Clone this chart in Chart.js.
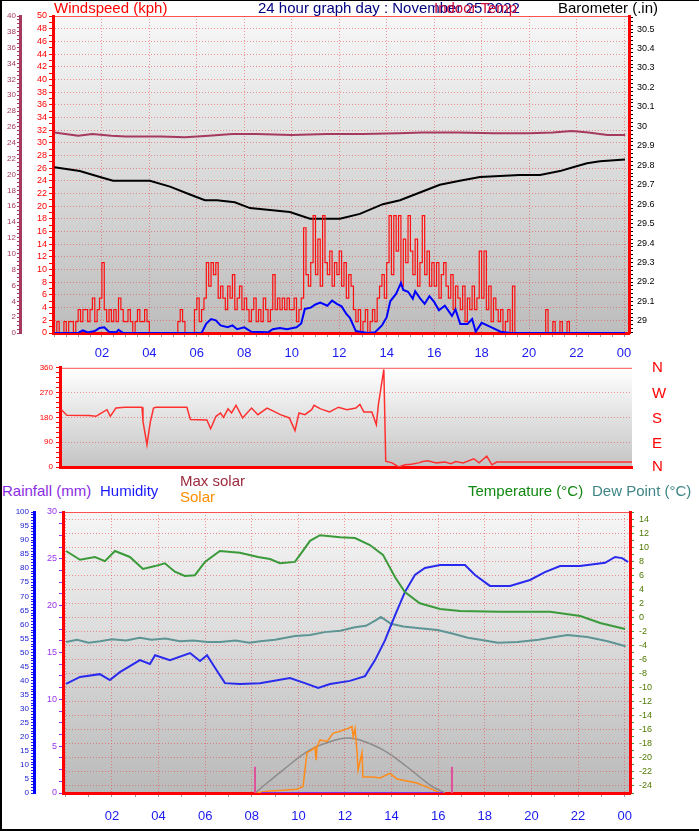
<!DOCTYPE html>
<html>
<head>
<meta charset="utf-8">
<script src="https://cdn.jsdelivr.net/npm/chart.js@4.4.1/dist/chart.umd.min.js"></script>
<style>
body { margin: 0; background: #fff; }
#wrap { position: relative; width: 699px; height: 833px; overflow: hidden; font-family: 'Liberation Sans', Arial, sans-serif; }
#wrap canvas { position: absolute; left: 0; }
.t { position: absolute; font-size: 15px; white-space: nowrap; line-height: 1; }
.c { position: absolute; left: 652px; font-size: 15px; line-height: 1; color: #ff0000; }
#frameL { position: absolute; left: 0; top: 0; width: 2px; height: 831px; background: #000; }
#frameT { position: absolute; left: 0; top: 0; width: 699px; height: 1px; background: #000; }
#frameB { position: absolute; left: 0; top: 829px; width: 699px; height: 2px; background: #000; }
</style>
</head>
<body>
<div id="wrap">
  <canvas id="windChart" width="699" height="365" style="top:0"></canvas>
  <canvas id="dirChart" width="699" height="115" style="top:360px"></canvas>
  <canvas id="tempChart" width="699" height="333" style="top:500px"></canvas>

  <div class="t" style="left:54px;top:0;color:#ff0000">Windspeed (kph)</div>
  <div class="t" style="left:258px;top:0;color:#000080">24 hour graph day : November 25 2022</div>
  <div class="t" style="left:434px;top:0;color:#d0103a">Indoor Temp</div>
  <div class="t" style="left:558px;top:0;color:#000">Barometer (.in)</div>

  <div class="c" style="top:359px">N</div>
  <div class="c" style="top:385px">W</div>
  <div class="c" style="top:410px">S</div>
  <div class="c" style="top:435px">E</div>
  <div class="c" style="top:458px">N</div>

  <div class="t" style="left:2px;top:483px;color:#8a2be2">Rainfall (mm)</div>
  <div class="t" style="left:100px;top:483px;color:#1a1aff">Humidity</div>
  <div class="t" style="left:180px;top:473px;color:#9c2a3c">Max solar</div>
  <div class="t" style="left:180px;top:489px;color:#ff8c00">Solar</div>
  <div class="t" style="left:468px;top:483px;color:#118811">Temperature (°C)</div>
  <div class="t" style="left:592px;top:483px;color:#3f8585">Dew Point (°C)</div>

  <div id="frameL"></div><div id="frameT"></div><div id="frameB"></div>
</div>
<script>
// ---- Данные: верхняя панель (ветер / барометр / темп. в помещении) ----
const gustStep = 0.1; // порывы: одно значение на каждые 0.1 часа, с 00:00
const gustKph = [
  0, 1.8, 0, 0, 1.8, 0, 1.8, 1.8, 0, 1.8,
  3.7, 1.8, 3.7, 3.7, 1.8, 3.7, 5.5, 1.8, 3.7, 5.5,
  11.1, 3.7, 1.8, 3.7, 1.8, 3.7, 1.8, 5.5, 3.7, 1.8,
  1.8, 3.7, 1.8, 0, 1.8, 3.7, 1.8, 1.8, 3.7, 1.8,
  0, 0, 0, 0, 0, 0, 0, 0, 0, 0,
  0, 0, 1.8, 3.7, 1.8, 0, 0, 0, 0, 3.7,
  5.5, 1.8, 3.7, 5.5, 11.1, 7.4, 11.1, 9.2, 11.1, 5.5,
  7.4, 5.5, 3.7, 7.4, 5.5, 9.2, 3.7, 5.5, 7.4, 3.7,
  5.5, 3.7, 1.8, 3.7, 5.5, 1.8, 3.7, 1.8, 5.5, 3.7,
  1.8, 3.7, 9.2, 3.7, 5.5, 3.7, 5.5, 3.7, 5.5, 3.7,
  3.7, 5.5, 1.8, 3.7, 5.5, 16.6, 9.2, 7.4, 11.1, 18.5,
  9.2, 14.8, 7.4, 18.5, 11.1, 9.2, 12.9, 7.4, 11.1, 9.2,
  12.9, 7.4, 11.1, 5.5, 9.2, 7.4, 3.7, 1.8, 3.7, 0,
  1.8, 3.7, 0, 1.8, 3.7, 1.8, 5.5, 7.4, 9.2, 5.5,
  11.1, 18.5, 9.2, 18.5, 12.9, 18.5, 7.4, 14.8, 11.1, 18.5,
  12.9, 9.2, 14.8, 7.4, 11.1, 18.5, 9.2, 12.9, 7.4, 11.1,
  7.4, 11.1, 5.5, 9.2, 11.1, 7.4, 5.5, 9.2, 3.7, 7.4,
  5.5, 3.7, 7.4, 1.8, 5.5, 3.7, 7.4, 3.7, 5.5, 12.9,
  5.5, 12.9, 3.7, 7.4, 1.8, 5.5, 3.7, 1.8, 3.7, 0,
  1.8, 3.7, 0, 7.4, 0, 0, 0, 0, 0, 0,
  0, 0, 0, 0, 0, 0, 0, 3.7, 0, 0,
  1.8, 0, 0, 1.8, 0, 0, 1.8, 0, 0, 0,
  0, 0, 0, 0, 0, 0, 0, 0, 0, 0,
  0, 0, 0, 0, 0, 0, 0, 0, 0, 0,
  0
];

const windHours = [0, 1.0, 1.2, 1.4, 1.7, 1.9, 2.1, 2.3, 2.6, 2.7, 2.9, 6.2, 6.4, 6.6, 6.8, 7.0, 7.3, 7.5, 7.7, 8.0, 8.3,
  9.0, 9.2, 9.5, 9.8, 10.2, 10.4, 10.55, 10.8, 11.0, 11.2, 11.5, 11.7, 11.9, 12.1, 12.3, 12.45, 12.7, 12.9, 13.2, 13.5,
  13.8, 14.0, 14.15, 14.4, 14.6, 14.7, 14.9, 15.1, 15.2, 15.4, 15.6, 15.8, 16.0, 16.2, 16.45, 16.75, 16.9, 17.1, 17.4,
  17.6, 17.75, 18.0, 18.35, 18.8, 19.2, 24.05];
const windKph = [0, 0, 0.4, 0.1, 0.3, 0.8, 0.9, 0.2, 0.1, 0.5, 0, 0, 1.5, 2.2, 2.0, 1.2, 0.9, 1.2, 0.6, 0.9, 0.2,
  0.1, 0.6, 0.8, 0.6, 0.9, 1.5, 3.8, 4.0, 4.5, 4.8, 4.3, 5.1, 4.6, 4.2, 3.0, 2.4, 0.3, 0.2, 0, 0.1,
  1.2, 2.5, 5.0, 6.2, 7.9, 6.8, 6.5, 5.4, 6.6, 5.5, 4.6, 5.8, 4.9, 3.6, 4.3, 2.7, 3.7, 1.4, 1.4,
  2.2, 0.2, 1.6, 1.0, 0.2, 0, 0];

const baroHours = [0, 1.07, 1.92, 2.47, 3.18, 4.02, 4.87, 5.71, 6.34, 6.85, 7.6, 8.24, 9.08, 9.92, 10.77, 11.4, 12.03,
  12.87, 13.84, 14.56, 15.4, 16.24, 17.08, 17.93, 18.77, 19.6, 20.46, 21.3, 21.85, 22.44, 22.99, 24.04];
const baroIn = [29.79, 29.77, 29.74, 29.72, 29.72, 29.72, 29.69, 29.65, 29.62, 29.62, 29.61, 29.58, 29.57, 29.56, 29.525, 29.525, 29.525,
  29.55, 29.60, 29.62, 29.66, 29.70, 29.72, 29.74, 29.745, 29.75, 29.75, 29.77, 29.79, 29.81, 29.82, 29.83];

const inTempHours = [0, 1.0, 1.6, 2.4, 3.0, 4.5, 5.5, 6.5, 7.5, 8.5, 10, 11.5, 13, 14.5, 15.5, 17, 18.5, 20, 21, 21.8, 22.5, 23.3, 24.05];
const inTempC = [25.3, 24.9, 25.1, 24.9, 24.8, 24.8, 24.7, 24.9, 25.1, 25.1, 25.0, 25.1, 25.1, 25.2, 25.3, 25.3, 25.2, 25.2, 25.3, 25.5, 25.3, 25.0, 25.0];

// ---- Средняя панель: направление ветра ----
const dirHours = [0.02, 0.25, 1.19, 1.49, 1.66, 1.96, 2.1, 2.34, 2.72, 3.45, 3.49, 3.66, 3.81, 3.94, 4.04, 5.36, 5.51, 6.21,
  6.37, 6.6, 6.79, 6.92, 7.11, 7.26, 7.45, 7.73, 8.11, 8.38, 8.77, 9.06, 9.34, 9.72, 9.96, 10.13, 10.38, 10.67, 10.77,
  11.05, 11.43, 11.81, 12.17, 12.55, 12.72, 12.89, 13.23, 13.42, 13.51, 13.66, 13.74, 13.82, 14.09, 14.37, 14.64, 14.9,
  15.22, 15.4, 15.6, 15.98, 16.34, 16.6, 16.8, 17.11, 17.57, 17.79, 18.12, 18.34, 18.54, 24.3];
const dirDeg = [208, 188, 187, 184, 193, 208, 184, 214, 217, 217, 166, 81, 166, 214, 217, 217, 172, 171,
  139, 184, 196, 180, 211, 196, 224, 178, 214, 190, 214, 202, 190, 178, 132, 196, 190, 208, 224,
  211, 200, 217, 208, 214, 227, 200, 200, 154, 227, 311, 354, 21, 15, 0, 8, 10,
  15, 20, 23, 15, 18, 12, 20, 15, 30, 15, 39, 8, 18, 18];

// ---- Нижняя панель: температура, точка росы, влажность, солнце, осадки ----
const tempHours = [0.03, 0.63, 1.27, 1.7, 2.13, 2.77, 3.33, 3.85, 4.27, 4.7, 5.13, 5.56, 5.99, 6.63, 7.49, 8.27, 8.78, 9.21,
  9.85, 10.07, 10.5, 10.93, 11.79, 12.43, 13.07, 13.63, 14.15, 14.57, 15.21, 16.08, 16.94, 18.65, 20.8, 22.1, 22.95, 24.02];
const tempC = [9.45, 8.2, 8.6, 8.0, 9.45, 8.6, 6.9, 7.3, 7.7, 6.5, 5.9, 6.0, 7.9, 9.45, 9.2, 8.6, 8.3, 7.7,
  7.9, 8.9, 10.9, 11.7, 11.4, 11.3, 10.3, 8.9, 5.7, 3.6, 2.0, 1.2, 0.9, 0.8, 0.8, 0.2, -0.8, -1.65];

const dewHours = [0.03, 0.5, 1.0, 1.49, 2.0, 2.6, 3.2, 3.7, 4.3, 4.92, 5.5, 6.1, 6.64, 7.3, 7.9, 8.36, 9.0, 9.86, 10.5,
  11.13, 11.8, 12.42, 12.9, 13.33, 13.54, 13.97, 14.5, 15.1, 15.97, 16.6, 17.27, 18.0, 18.56, 19.4, 20.3, 21.0, 21.55,
  22.4, 23.27, 24.04];
const dewC = [-3.5, -3.2, -3.6, -3.4, -3.1, -3.3, -2.9, -3.2, -3.0, -3.4, -3.3, -3.5, -3.5, -3.3, -3.6, -3.4, -3.2, -2.65, -2.5,
  -2.1, -1.9, -1.4, -1.2, -0.4, 0.05, -0.9, -1.3, -1.5, -1.8, -2.3, -2.9, -3.3, -3.6, -3.5, -3.2, -2.8, -2.5,
  -2.8, -3.4, -4.1];

const humHours = [0.03, 0.63, 1.48, 1.91, 2.34, 3.2, 3.63, 3.85, 4.49, 5.35, 5.78, 6.08, 6.43, 6.85, 7.49, 8.35, 9.64,
  10.28, 10.85, 11.36, 12.21, 12.86, 13.29, 13.72, 14.15, 14.57, 15.0, 15.43, 16.08, 17.15, 17.58, 18.22, 19.08, 19.94,
  20.58, 21.23, 22.08, 23.16, 23.59, 23.89, 24.15];
const humPct = [38.8, 41.3, 42.3, 40.2, 43, 47.3, 45.9, 49, 47.3, 49.8, 47, 49, 44.5, 39.1, 38.8, 39.1, 40.9,
  39.1, 37.4, 38.8, 39.9, 41.6, 47.3, 54.4, 63.3, 71.5, 77.6, 80.1, 81.1, 81.1, 77.6, 73.7, 73.7, 75.8,
  78.6, 80.8, 80.8, 81.9, 84, 83.6, 82.2];

const solarHours = [8.22, 8.65, 9.34, 9.94, 10.2, 10.37, 10.58, 10.71, 10.76, 10.8, 10.93, 11.23, 11.5, 11.79, 12.13, 12.3,
  12.35, 12.43, 12.52, 12.56, 12.73, 12.77, 13.2, 13.5, 13.93, 14.23, 15.09, 15.65, 16.08];
const solarVal = [0, 0.2, 0.3, 0.4, 0.7, 4.3, 4.6, 4.9, 3.5, 4.9, 5.66, 5.5, 6.4, 6.6, 6.9, 7.1,
  6.0, 6.9, 4.3, 2.45, 4.3, 1.7, 1.7, 1.6, 2.1, 1.5, 1.07, 0.5, 0];

const maxSolarHours = [8.14, 9.34, 10.5, 11.48, 12.08, 12.64, 13.63, 14.66, 15.65, 16.29];
const maxSolarVal = [0, 2.45, 4.6, 5.58, 5.87, 5.66, 4.6, 2.8, 0.85, 0];

const rainHours = [8.4, 16.2];
const rainMm = [0, 0];

const sunriseHour = 8.14, sunsetHour = 16.59, sunMarkTop = 2.8;

// ---- Общие настройки ----
const FONT = "'Liberation Sans', Arial, sans-serif";
const GRID_RED = 'rgba(235, 70, 70, 0.55)';
const NONE = 'rgba(0,0,0,0)';
const pts = (xs, ys) => xs.map((x, i) => ({ x: x, y: ys[i] }));
const gustPts = gustKph.map((v, i) => ({ x: +(i * gustStep).toFixed(2), y: v }));

function hourLabel(v) {
  if (v <= 0 || Math.abs(v % 2) > 1e-6) return '';
  const h = Math.round(v) % 24;
  return (h < 10 ? '0' : '') + h;
}
const isEven = v => Math.abs(v % 2) < 1e-6;

// фон панели: градиент + тонкая верхняя рамка
const panelBg = {
  id: 'panelBg',
  beforeDraw(chart, args, opts) {
    const a = chart.chartArea, ctx = chart.ctx;
    const g = ctx.createLinearGradient(0, a.top, 0, a.bottom);
    g.addColorStop(0, opts.top || '#fafafa');
    g.addColorStop(1, opts.bottom || '#c0c0c0');
    ctx.save();
    ctx.fillStyle = g;
    ctx.fillRect(a.left, a.top, a.right - a.left, a.bottom - a.top);
    ctx.strokeStyle = '#ff5050';
    ctx.lineWidth = 1;
    ctx.beginPath();
    ctx.moveTo(a.left, a.top + 0.5);
    ctx.lineTo(a.right, a.top + 0.5);
    ctx.stroke();
    ctx.restore();
  }
};

const baseOpts = {
  responsive: false,
  animation: false,
  events: [],
  plugins: { legend: { display: false }, tooltip: { enabled: false } },
  elements: { point: { radius: 0 }, line: { tension: 0 } }
};

// ---- Верхний график ----
new Chart(document.getElementById('windChart').getContext('2d'), {
  type: 'line',
  data: {
    datasets: [{
      label: 'Wind speed', data: pts(windHours, windKph), yAxisID: 'kph',
      borderColor: '#0000ff', borderWidth: 2, order: 0
    }, {
      label: 'Gust', data: gustPts, yAxisID: 'kph', stepped: true,
      borderColor: '#ff1010', borderWidth: 1.2, order: 1
    }, {
      label: 'Barometer', data: pts(baroHours, baroIn), yAxisID: 'baro',
      borderColor: '#000000', borderWidth: 2, order: 2
    }, {
      label: 'Indoor Temp', data: pts(inTempHours, inTempC), yAxisID: 'tin',
      borderColor: '#a63a5e', borderWidth: 2, order: 3
    }]
  },
  options: Object.assign({}, baseOpts, {
    layout: { padding: { top: 16, left: 0, right: 0, bottom: 0 } },
    plugins: Object.assign({}, baseOpts.plugins, { panelBg: { top: '#f7f7f7', bottom: '#bdbdbd' } }),
    scales: {
      x: {
        type: 'linear', min: -0.06, max: 24.21,
        afterFit: s => { s.height = 32; },
        ticks: { stepSize: 0.5, includeBounds: false, autoSkip: false, maxRotation: 0, padding: 9,
          color: '#1a1aee', font: { family: FONT, size: 13 }, callback: hourLabel },
        grid: { color: c => (c.tick && isEven(c.tick.value)) ? GRID_RED : NONE, tickColor: '#9a9a9a', tickLength: 4 },
        border: { color: '#ff0000', width: 3, dash: [1, 2] }
      },
      tin: {
        position: 'left', weight: 1, min: 0, max: 40,
        afterFit: s => { s.width = 20; },
        ticks: { stepSize: 0.5, autoSkip: false, padding: 1, color: '#a63a5e',
          font: { family: FONT, size: 8 }, callback: v => isEven(v) ? v : '' },
        grid: { drawOnChartArea: false, tickColor: '#a63a5e', tickLength: 3 },
        border: { color: '#a63a5e', width: 3 }
      },
      kph: {
        position: 'left', weight: 0, min: 0, max: 50,
        afterFit: s => { s.width = 33; },
        ticks: { stepSize: 1, autoSkip: false, padding: 2, color: '#ff0000',
          font: { family: FONT, size: 9 }, callback: v => isEven(v) ? v : '' },
        grid: { color: c => (c.tick && isEven(c.tick.value) && c.tick.value > 0 && c.tick.value < 50) ? GRID_RED : NONE,
          tickColor: '#ff0000', tickLength: 4 },
        border: { color: '#ff0000', width: 3, dash: [1, 2] }
      },
      baro: {
        position: 'right', min: 28.938, max: 30.567,
        afterFit: s => { s.width = 70; },
        ticks: { stepSize: 0.02, includeBounds: false, autoSkip: false, padding: 4, color: '#000',
          font: { family: FONT, size: 9 },
          callback: v => Math.abs(v * 10 - Math.round(v * 10)) < 1e-4 ? String(+v.toFixed(1)) : '' },
        grid: { drawOnChartArea: false, tickColor: '#000', tickLength: 4 },
        border: { color: '#ff0000', width: 3 }
      }
    }
  }),
  plugins: [panelBg]
});

// ---- Направление ветра ----
new Chart(document.getElementById('dirChart').getContext('2d'), {
  type: 'line',
  data: {
    datasets: [{
      label: 'Wind direction', data: pts(dirHours, dirDeg), yAxisID: 'dir',
      borderColor: '#ff3030', borderWidth: 1.5
    }]
  },
  options: Object.assign({}, baseOpts, {
    layout: { padding: { top: 7, left: 0, right: 0, bottom: 0 } },
    plugins: Object.assign({}, baseOpts.plugins, { panelBg: { top: '#ffffff', bottom: '#c4c4c4' } }),
    scales: {
      x: {
        type: 'linear', min: -0.04, max: 24.3,
        afterFit: s => { s.height = 8; },
        ticks: { display: false },
        grid: { drawOnChartArea: false, drawTicks: false },
        border: { color: '#ff0000', width: 3 }
      },
      dir: {
        position: 'left', min: 0, max: 360,
        afterFit: s => { s.width = 60; },
        ticks: { stepSize: 18, autoSkip: false, padding: 3, color: '#ff0000',
          font: { family: FONT, size: 8 }, callback: v => v % 90 === 0 ? v : '' },
        grid: { color: c => (c.tick && c.tick.value % 90 === 0 && c.tick.value > 0 && c.tick.value < 360) ? GRID_RED : NONE,
          tickColor: '#ff0000', tickLength: 4 },
        border: { color: '#ff0000', width: 3, dash: [1, 2] }
      },
      side: {
        position: 'right', min: 0, max: 360,
        afterFit: s => { s.width = 67; },
        ticks: { display: false },
        grid: { drawOnChartArea: false, drawTicks: false },
        border: { display: false }
      }
    }
  }),
  plugins: [panelBg]
});

// ---- Нижний график ----
new Chart(document.getElementById('tempChart').getContext('2d'), {
  type: 'line',
  data: {
    datasets: [{
      label: 'Humidity', data: pts(humHours, humPct), yAxisID: 'hum',
      borderColor: '#2a2aee', borderWidth: 2, order: 3
    }, {
      label: 'Temperature', data: pts(tempHours, tempC), yAxisID: 'temp',
      borderColor: '#3a9a3a', borderWidth: 2, order: 2
    }, {
      label: 'Dew Point', data: pts(dewHours, dewC), yAxisID: 'temp',
      borderColor: '#5e9494', borderWidth: 2, order: 4
    }, {
      label: 'Max solar', data: pts(maxSolarHours, maxSolarVal), yAxisID: 'rain',
      borderColor: '#8c8c8c', borderWidth: 1.5, tension: 0.4, order: 5
    }, {
      label: 'Solar', data: pts(solarHours, solarVal), yAxisID: 'rain',
      borderColor: '#ff8c1a', borderWidth: 1.5, order: 1
    }, {
      label: 'Rainfall', data: pts(rainHours, rainMm), yAxisID: 'rain',
      borderColor: '#8a2be2', borderWidth: 2, order: 0
    }, {
      label: 'Sunrise', data: [{ x: sunriseHour, y: 0 }, { x: sunriseHour, y: sunMarkTop }], yAxisID: 'rain',
      borderColor: '#e0509a', borderWidth: 2, order: 0
    }, {
      label: 'Sunset', data: [{ x: sunsetHour, y: 0 }, { x: sunsetHour, y: sunMarkTop }], yAxisID: 'rain',
      borderColor: '#e0509a', borderWidth: 2, order: 0
    }]
  },
  options: Object.assign({}, baseOpts, {
    layout: { padding: { top: 12, left: 0, right: 0, bottom: 0 } },
    plugins: Object.assign({}, baseOpts.plugins, { panelBg: { top: '#f6f6f6', bottom: '#bababa' } }),
    scales: {
      x: {
        type: 'linear', min: -0.1, max: 24.23,
        afterFit: s => { s.height = 40; },
        ticks: { stepSize: 1, includeBounds: false, autoSkip: false, maxRotation: 0, padding: 12,
          color: '#1a1aee', font: { family: FONT, size: 13 }, callback: hourLabel },
        grid: { color: c => (c.tick && isEven(c.tick.value)) ? GRID_RED : NONE, tickColor: '#9a9a9a', tickLength: 4 },
        border: { color: '#ff0000', width: 3, dash: [1, 2] }
      },
      hum: {
        position: 'left', weight: 1, min: 0, max: 100,
        afterFit: s => { s.width = 34; },
        ticks: { stepSize: 1, autoSkip: false, padding: 2, color: '#1a1acc',
          font: { family: FONT, size: 8 }, callback: v => v % 5 === 0 ? v : '' },
        grid: { drawOnChartArea: false, tickColor: '#1a1aee', tickLength: 3 },
        border: { color: '#0000ff', width: 3 }
      },
      rain: {
        position: 'left', weight: 0, min: 0, max: 30,
        afterFit: s => { s.width = 29; },
        ticks: { stepSize: 1.25, autoSkip: false, padding: 2, color: '#9933ee',
          font: { family: FONT, size: 9 }, callback: v => v % 5 === 0 ? v : '' },
        grid: { drawOnChartArea: false, tickColor: '#9933ee', tickLength: 4 },
        border: { color: '#ff0000', width: 3 }
      },
      temp: {
        position: 'right', min: -25, max: 15,
        afterFit: s => { s.width = 69; },
        ticks: { stepSize: 1, autoSkip: false, padding: 5, color: '#4f7a00',
          font: { family: FONT, size: 9 }, callback: v => isEven(v) ? v : '' },
        grid: { color: c => (c.tick && isEven(c.tick.value)) ? GRID_RED : NONE,
          tickColor: '#3a9a3a', tickLength: 4 },
        border: { color: '#ff0000', width: 3, dash: [1, 2] }
      }
    }
  }),
  plugins: [panelBg]
});
</script>
</body>
</html>
